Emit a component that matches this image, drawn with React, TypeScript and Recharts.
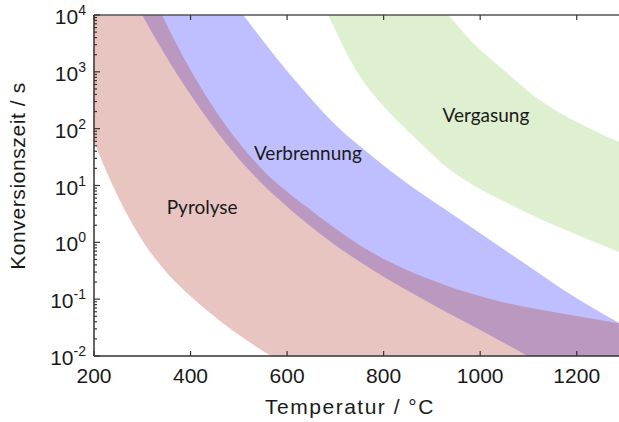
import React from 'react';
import { ComposedChart, Area, XAxis, YAxis, ReferenceDot } from 'recharts';

// Temperatur (°C) und Grenzen der Konversionszeit (s) je Bereich.
// Punkte ausserhalb des Bildausschnitts setzen die Kurven nur fort und werden abgeschnitten.
const pyrolyseTemp = [200, 240, 290, 341, 400, 470, 550, 641, 778, 917, 1056, 1160, 1300];
const pyrolyseMin = [58.9, 9.55, 1.48, 0.363, 0.112, 0.0363, 0.0123, 0.00468, 0.00126, 0.000398, 0.000126, 0.000063, 0.0000251];
const pyrolyseMax = [6.46e6, 9.33e5, 9.33e4, 10000, 1072, 123, 18.6, 4.17, 0.646, 0.191, 0.0851, 0.0575, 0.0363];

const verbrennungTemp = [250, 300, 360, 420, 470, 520, 580, 640, 700, 780, 860, 920, 1000, 1090, 1190, 1300];
const verbrennungMin = [6.76e4, 10000, 1318, 224, 60.3, 19.1, 6.03, 2.19, 0.891, 0.316, 0.126, 0.0661, 0.0288, 0.011, 0.0038, 0.0012];
const verbrennungMax = [1e7, 2.82e6, 5.62e5, 1.12e5, 2.82e4, 7586, 1660, 417, 117, 30.9, 9.33, 4.17, 1.45, 0.437, 0.117, 0.0331];

const vergasungTemp = [640, 685, 750, 810, 876, 934, 985, 1056, 1124, 1193, 1250, 1300];
const vergasungMin = [7.08e4, 10000, 851, 200, 56.2, 20, 10.2, 4.9, 2.57, 1.45, 0.912, 0.617];
const vergasungMax = [2.14e7, 5.5e6, 8.5e5, 1.74e5, 3.55e4, 10000, 3236, 955, 316, 141, 81.3, 52.5];

const labelNames = ['Pyrolyse', 'Verbrennung', 'Vergasung'];
const labelTemp = [424, 643, 1012];
const labelTime = [4.2, 37, 174];

const xTicks = [200, 400, 600, 800, 1000, 1200];
const yMajor = [0.01, 0.1, 1, 10, 100, 1000, 10000];
const yMinorSteps = [2, 3, 4, 5, 6, 7, 8, 9];

const toRows = (t: number[], lo: number[], hi: number[]) =>
    t.map((temp, i) => ({ temp, range: [lo[i], hi[i]] }));

const pyrolyse = toRows(pyrolyseTemp, pyrolyseMin, pyrolyseMax);
const verbrennung = toRows(verbrennungTemp, verbrennungMin, verbrennungMax);
const vergasung = toRows(vergasungTemp, vergasungMin, vergasungMax);

const yTicks: number[] = [];
yMajor.forEach((m, i) => {
    yTicks.push(m);
    if (i < yMajor.length - 1) yMinorSteps.forEach((s) => yTicks.push(+(m * s).toPrecision(3)));
});

const PLOT_LEFT = 94;
const PLOT_TOP = 15;
const PLOT_BOTTOM = 356;
const AXIS = '#333';
const FONT = '"Liberation Sans", Arial, sans-serif';

const YTick = (props: any) => {
    const { y, payload } = props;
    const lg = Math.log10(payload.value);
    const exp = Math.round(lg);
    const major = Math.abs(lg - exp) < 1e-6;
    return (
        <g>
            <line x1={PLOT_LEFT} x2={PLOT_LEFT + (major ? 6 : 3)} y1={y} y2={y} stroke={AXIS} strokeWidth={1.2} />
            {major && (
                <text x={86} y={y + 9} textAnchor="end" fontFamily={FONT} fontSize={21} fill="#1a1a1a">
                    10<tspan dy={-9} fontSize={14}>{exp}</tspan>
                </text>
            )}
        </g>
    );
};

const BottomTick = (props: any) => {
    const { x, payload } = props;
    return (
        <g>
            <line x1={x} x2={x} y1={PLOT_BOTTOM} y2={PLOT_BOTTOM - 5} stroke={AXIS} strokeWidth={1.2} />
            <text x={x} y={383} textAnchor="middle" fontFamily={FONT} fontSize={21} fill="#1a1a1a">
                {payload.value}
            </text>
        </g>
    );
};

const TopTick = (props: any) => {
    const { x } = props;
    return <line x1={x} x2={x} y1={PLOT_TOP} y2={PLOT_TOP + 5} stroke={AXIS} strokeWidth={1.2} />;
};

const App: React.FC = () => {
    return (
        <div style={{ position: 'fixed', left: 0, top: 0, width: 619, height: 422, overflow: 'hidden', background: '#fff' }}>
            <ComposedChart width={640} height={422} margin={{ top: 14, right: 15, bottom: 0, left: 0 }}>
                <XAxis
                    xAxisId="b"
                    type="number"
                    dataKey="temp"
                    domain={[200, 1300]}
                    ticks={xTicks}
                    interval={0}
                    allowDataOverflow
                    height={66}
                    tickLine={false}
                    tick={<BottomTick />}
                    axisLine={{ stroke: AXIS, strokeWidth: 1.5 }}
                    label={{
                        content: () => (
                            <text x={350} y={414} textAnchor="middle" fontFamily={FONT} fontSize={21} letterSpacing={1.5} fill="#1a1a1a">
                                Temperatur / °C
                            </text>
                        ),
                    }}
                />
                <XAxis
                    xAxisId="t"
                    orientation="top"
                    type="number"
                    dataKey="temp"
                    domain={[200, 1300]}
                    ticks={xTicks}
                    interval={0}
                    allowDataOverflow
                    height={1}
                    tickLine={false}
                    tick={<TopTick />}
                    axisLine={{ stroke: '#555', strokeWidth: 1.5 }}
                />
                <YAxis
                    yAxisId="y"
                    type="number"
                    scale="log"
                    domain={[0.01, 10000]}
                    ticks={yTicks}
                    interval={0}
                    allowDataOverflow
                    width={94}
                    tickLine={false}
                    tick={<YTick />}
                    axisLine={{ stroke: AXIS, strokeWidth: 1.5 }}
                    label={{
                        content: () => (
                            <text
                                x={25}
                                y={176}
                                transform="rotate(-90 25 176)"
                                textAnchor="middle"
                                fontFamily={FONT}
                                fontSize={21}
                                letterSpacing={0.6}
                                fill="#1a1a1a"
                            >
                                Konversionszeit / s
                            </text>
                        ),
                    }}
                />
                <Area
                    xAxisId="b"
                    yAxisId="y"
                    data={vergasung}
                    dataKey="range"
                    type="monotone"
                    stroke="none"
                    fill="#dff0d0"
                    fillOpacity={1}
                    isAnimationActive={false}
                />
                <Area
                    xAxisId="b"
                    yAxisId="y"
                    data={verbrennung}
                    dataKey="range"
                    type="monotone"
                    stroke="none"
                    fill="#0000ff"
                    fillOpacity={0.25}
                    isAnimationActive={false}
                />
                <Area
                    xAxisId="b"
                    yAxisId="y"
                    data={pyrolyse}
                    dataKey="range"
                    type="monotone"
                    stroke="none"
                    fill="#b43e2d"
                    fillOpacity={0.3}
                    isAnimationActive={false}
                />
                {labelNames.map((name, i) => (
                    <ReferenceDot
                        key={name}
                        xAxisId="b"
                        yAxisId="y"
                        x={labelTemp[i]}
                        y={labelTime[i]}
                        r={0}
                        stroke="none"
                        fill="none"
                        label={{ value: name, position: 'center', fontFamily: 'Lato, sans-serif', fontSize: 19, fill: '#1a1a1a' }}
                    />
                ))}
            </ComposedChart>
        </div>
    );
};

export default App;
